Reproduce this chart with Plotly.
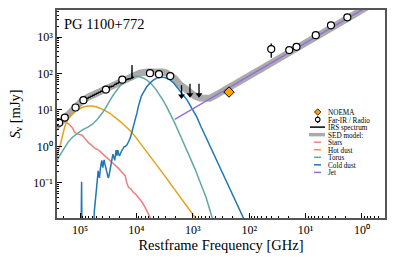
import plotly.graph_objects as go

# ---------------- data ----------------
# Photometry (open circles): rest-frame frequency [GHz], flux density [mJy]
phot_freq = [2.34e5, 1.86e5, 1.20e5, 8.7e4, 3.47e4, 1.78e4, 5750, 3980, 2510,
             40.7, 19.5, 14.5, 6.6, 3.55, 1.82]
phot_flux = [4.5, 6.2, 11.7, 18.6, 36.3, 67.6, 102, 95.5, 85,
             468, 437, 537, 1120, 2090, 3470]
phot_err = [0, 0, 0, 0, 0, 0, 0, 0, 0,
            200, 0, 0, 0, 0, 0]

# Upper limits (arrows)
ul_freq = [1585, 1122, 776]
ul_flux = [48, 52, 52]

# NOEMA
noema_freq = [228]
noema_flux = [31]

# IRS spectrum (log10 GHz, log10 mJy)
irs_lognu = [4.876, 4.858, 4.840, 4.823, 4.805, 4.787, 4.770, 4.752, 4.734, 4.716,
             4.699, 4.681, 4.663, 4.645, 4.628, 4.610, 4.592, 4.574, 4.557, 4.539,
             4.521, 4.504, 4.486, 4.468, 4.450, 4.433, 4.415, 4.397, 4.379, 4.362,
             4.344, 4.326, 4.309, 4.291, 4.273, 4.255, 4.238, 4.220, 4.202, 4.184,
             4.167, 4.149, 4.131, 4.113, 4.096, 4.081, 4.078, 4.075, 4.060, 4.043]
irs_logflux = [1.329, 1.315, 1.356, 1.342, 1.384, 1.370, 1.411, 1.397, 1.438, 1.425,
               1.466, 1.452, 1.493, 1.479, 1.521, 1.507, 1.534, 1.521, 1.562, 1.548,
               1.575, 1.603, 1.589, 1.644, 1.630, 1.658, 1.644, 1.685, 1.712, 1.699,
               1.740, 1.726, 1.767, 1.753, 1.781, 1.795, 1.822, 1.808, 1.836, 1.822,
               1.849, 1.836, 1.863, 1.849, 1.877, 1.880, 2.233, 1.870, 1.890, 1.904]

# SED model components (log10 GHz, log10 mJy)
total_lognu = [5.45, 5.41, 5.36, 5.32, 5.23, 5.14, 5.05, 4.96, 4.88, 4.79, 4.70, 4.58,
               4.47, 4.35, 4.24, 4.15, 4.06, 3.94, 3.81, 3.67, 3.53, 3.46, 3.40, 3.32,
               3.23, 3.14, 3.05, 2.96, 2.87, 2.78, 2.70, 2.61, 2.48, 2.34, 2.20, 2.04,
               1.76, 1.45, 1.10, 0.74, 0.39, 0.0, -0.45]
total_logflux = [0.50, 0.56, 0.65, 0.72, 0.88, 1.02, 1.14, 1.25, 1.33, 1.40, 1.47, 1.55,
                 1.63, 1.72, 1.82, 1.90, 1.96, 2.01, 2.04, 2.05, 2.04, 2.01, 1.96, 1.86,
                 1.70, 1.58, 1.47, 1.38, 1.33, 1.30, 1.32, 1.39, 1.50, 1.63, 1.75, 1.90,
                 2.15, 2.43, 2.75, 3.07, 3.39, 3.74, 4.15]

stars_lognu = [5.45, 5.41, 5.36, 5.30, 5.25, 5.21, 5.14, 5.09, 5.04, 4.96, 4.86, 4.80,
               4.73, 4.67, 4.61, 4.55, 4.50, 4.44, 4.38, 4.33, 4.29, 4.24, 4.20, 4.17,
               4.14, 4.10, 4.06, 4.00, 3.94, 3.89, 3.85, 3.80, 3.76, 3.69]
stars_logflux = [0.66, 0.66, 0.66, 0.70, 0.66, 0.63, 0.52, 0.38, 0.34, 0.31, 0.12, 0.04,
                 -0.05, -0.10, -0.19, -0.26, -0.33, -0.42, -0.51, -0.58, -0.65, -0.71,
                 -0.80, -1.00, -1.12, -1.16, -1.25, -1.33, -1.44, -1.55, -1.66, -1.80,
                 -1.93, -2.15]

hot_lognu = [5.50, 5.44, 5.40, 5.35, 5.31, 5.27, 5.21, 5.14, 5.07, 5.00, 4.93, 4.86,
             4.78, 4.70, 4.63, 4.56, 4.47, 4.38, 4.29, 4.20, 4.11, 4.02, 3.90, 3.76,
             3.62, 3.49, 3.36, 3.23, 3.08, 2.94, 2.80]
hot_logflux = [-1.00, -0.51, -0.22, 0.04, 0.32, 0.55, 0.76, 0.90, 0.99, 1.05, 1.09, 1.11,
               1.11, 1.08, 1.04, 0.99, 0.91, 0.81, 0.69, 0.56, 0.43, 0.27, 0.03, -0.25,
               -0.54, -0.82, -1.10, -1.38, -1.68, -1.98, -2.28]

torus_lognu = [5.50, 5.44, 5.38, 5.32, 5.26, 5.21, 5.13, 5.04, 4.95, 4.86, 4.78, 4.70,
               4.64, 4.59, 4.54, 4.50, 4.45, 4.41, 4.35, 4.29, 4.23, 4.17, 4.11, 4.06,
               4.00, 3.94, 3.87, 3.81, 3.74, 3.67, 3.60, 3.53, 3.46, 3.40, 3.32, 3.23,
               3.14, 3.05, 2.96, 2.87, 2.77, 2.66, 2.58]
torus_logflux = [-0.75, -0.51, -0.30, -0.15, 0.00, 0.12, 0.26, 0.37, 0.46, 0.53, 0.61,
                 0.73, 0.84, 0.95, 1.07, 1.19, 1.31, 1.41, 1.55, 1.66, 1.75, 1.82, 1.88,
                 1.92, 1.93, 1.91, 1.87, 1.81, 1.72, 1.60, 1.44, 1.27, 1.08, 0.90, 0.64,
                 0.33, 0.02, -0.29, -0.62, -0.98, -1.37, -1.93, -2.30]

cold_lognu = [4.985, 4.972, 4.962, 4.78, 4.765, 4.745, 4.73, 4.715, 4.70, 4.685, 4.678,
              4.665, 4.655, 4.64, 4.628, 4.615, 4.605, 4.595, 4.585, 4.572, 4.56, 4.545,
              4.53, 4.515, 4.50, 4.485, 4.47, 4.45, 4.43, 4.415, 4.40, 4.385, 4.372,
              4.36, 4.345, 4.33, 4.315, 4.30, 4.285, 4.27, 4.255, 4.235, 4.22, 4.20,
              4.17, 4.14, 4.11, 4.085, 4.06, 4.04, 4.02, 3.99, 3.965, 3.94, 3.91, 3.88,
              3.82, 3.76, 3.70, 3.63, 3.53, 3.46, 3.40, 3.34, 3.28, 3.19, 3.10, 3.02,
              2.93, 2.86, 2.78, 2.70, 2.61, 2.52, 2.43, 2.27, 2.11, 2.00]
cold_logflux = [-3.0, -0.97, -3.0, -3.0, -2.2, -1.75, -1.52, -1.25, -1.08, -0.80, -0.67,
                -0.80, -0.86, -0.62, -0.45, -0.38, -0.50, -0.58, -0.45, -0.37, -0.47,
                -0.58, -0.70, -0.78, -0.86, -0.80, -0.64, -0.45, -0.32, -0.21, -0.28,
                -0.38, -0.25, -0.10, -0.25, -0.10, -0.20, -0.26, -0.20, -0.12, -0.10,
                -0.05, -0.01, 0.00, 0.04, 0.13, 0.23, 0.37, 0.51, 0.61, 0.70, 0.92, 1.10,
                1.27, 1.39, 1.47, 1.63, 1.74, 1.82, 1.88, 1.90, 1.87, 1.82, 1.74, 1.63,
                1.45, 1.27, 1.05, 0.81, 0.56, 0.29, 0.02, -0.29, -0.60, -0.92, -1.44,
                -1.96, -2.30]

jet_lognu = [3.32, 2.50, 1.50, 0.50, -0.45]
jet_logflux = [0.745, 1.49, 2.39, 3.29, 4.15]

legend_labels = ["NOEMA", "Far-IR / Radio", "IRS spectrum", "SED model:",
                 "Stars", "Hot dust", "Torus", "Cold dust", "Jet"]

x_major = [1e5, 1e4, 1e3, 1e2, 1e1, 1e0]
x_text = ["10\u2075", "10\u2074", "10\u00b3", "10\u00b2", "10\u00b9", "10\u2070"]
y_major = [0.1, 1, 10, 100, 1000]
y_text = ["10\u207b\u00b9", "10\u2070", "10\u00b9", "10\u00b2", "10\u00b3"]

# ---------------- styles ----------------
FONT = "Liberation Serif"
C_STARS = "#F08080"
C_HOT = "#E6A118"
C_TORUS = "#5FA8A3"
C_COLD = "#2077B4"
C_JET = "#9370DB"
C_TOTAL = "#ABABAB"
C_NOEMA = "#FFA500"


def lin(vals):
    return [10 ** v for v in vals]


fig = go.Figure()

fig.add_trace(go.Scatter(x=lin(total_lognu), y=lin(total_logflux), mode="lines",
                         line=dict(color=C_TOTAL, width=7), showlegend=False))
for lx, ly, col in [(stars_lognu, stars_logflux, C_STARS),
                    (hot_lognu, hot_logflux, C_HOT),
                    (torus_lognu, torus_logflux, C_TORUS),
                    (cold_lognu, cold_logflux, C_COLD),
                    (jet_lognu, jet_logflux, C_JET)]:
    fig.add_trace(go.Scatter(x=lin(lx), y=lin(ly), mode="lines",
                             line=dict(color=col, width=1.5), showlegend=False))

fig.add_trace(go.Scatter(x=lin(irs_lognu), y=lin(irs_logflux), mode="lines",
                         line=dict(color="black", width=1.3), showlegend=False))

# upper-limit arrows
ax_, ay_ = [], []
for f, s in zip(ul_freq, ul_flux):
    ax_ += [f, f, None]
    ay_ += [s, s * 0.5, None]
fig.add_trace(go.Scatter(x=ax_, y=ay_, mode="lines",
                         line=dict(color="black", width=1.3), showlegend=False))
fig.add_trace(go.Scatter(x=ul_freq, y=[s * 0.5 for s in ul_flux], mode="markers",
                         marker=dict(symbol="triangle-down", size=6, color="black"),
                         showlegend=False))

fig.add_trace(go.Scatter(x=phot_freq, y=phot_flux, mode="markers",
                         error_y=dict(type="data", array=phot_err, color="black",
                                      thickness=1.3, width=0),
                         marker=dict(symbol="circle", size=7, color="white",
                                     line=dict(color="black", width=1.2)),
                         showlegend=False))
fig.add_trace(go.Scatter(x=noema_freq, y=noema_flux, mode="markers",
                         marker=dict(symbol="diamond", size=8, color=C_NOEMA,
                                     line=dict(color="black", width=1)),
                         showlegend=False))

# ---------------- layout ----------------
W, H = 395, 263
L, R, T, B = 57, 10, 10, 45
PW, PH = W - L - R, H - T - B


def px(xp):
    return (xp - L) / PW


def py(yp):
    return (H - B - yp) / PH


x_minor = [m * 10 ** k for k in range(-1, 6) for m in range(2, 10)]
y_minor = [m * 10 ** k for k in range(-2, 4) for m in range(2, 10)]

axis_common = dict(type="log", showgrid=False, zeroline=False, showline=True,
                   mirror=True, linecolor="#555555", linewidth=1.5,
                   ticks="inside", ticklen=5, tickwidth=1, tickcolor="black",
                   tickfont=dict(family=FONT, size=12, color="black"))

fig.update_xaxes(**axis_common, range=[5.408, -0.408], tickmode="array",
                 tickvals=x_major, ticktext=x_text,
                 minor=dict(tickvals=x_minor, ticks="inside", ticklen=2.5,
                            tickcolor="black", tickwidth=0.8),
                 title=dict(text="Restframe Frequency [GHz]",
                            font=dict(family=FONT, size=14.5, color="black"),
                            standoff=3))
fig.update_yaxes(**axis_common, range=[-1.96, 3.74], tickmode="array",
                 tickvals=y_major, ticktext=y_text,
                 minor=dict(tickvals=y_minor, ticks="inside", ticklen=2.5,
                            tickcolor="black", tickwidth=0.8),
                 title=dict(text='<i>S</i><span style="baseline-shift:-22%;font-size:10px">'
                                 '\u03bd</span> [mJy]',
                            font=dict(family=FONT, size=14.5, color="black"),
                            standoff=9))

shapes = []
annotations = [dict(text="PG 1100+772", xref="paper", yref="paper", x=px(62),
                    y=py(24), xanchor="left", yanchor="middle", showarrow=False,
                    font=dict(family=FONT, size=14.5, color="black"))]

row0, step = 112.0, 7.55
sym_x = 317.7
n_rows = len(legend_labels)
# legend text: one block, tight line spacing (base size sets the spacing)
legend_text = "<br>".join('<span style="font-size:7.2px">{}</span>'.format(t)
                          for t in legend_labels)
annotations.append(dict(text=legend_text, xref="paper", yref="paper", x=px(328),
                        y=py(row0 + step * (n_rows - 1) / 2 + 0.8),
                        xanchor="left", yanchor="middle", align="left",
                        showarrow=False, borderpad=0, borderwidth=0,
                        font=dict(family=FONT, size=step / 1.3, color="black")))

for i, lab in enumerate(legend_labels):
    yc = row0 + step * i
    if i == 0:
        d = 3.2
        path = "M {},{} L {},{} L {},{} L {},{} Z".format(
            px(sym_x), py(yc - d), px(sym_x + d), py(yc), px(sym_x), py(yc + d),
            px(sym_x - d), py(yc))
        shapes.append(dict(type="path", path=path, xref="paper", yref="paper",
                           fillcolor=C_NOEMA, line=dict(color="black", width=0.8)))
    elif i == 1:
        shapes.append(dict(type="line", xref="paper", yref="paper",
                           x0=px(sym_x), x1=px(sym_x), y0=py(yc - 3.4), y1=py(yc + 3.4),
                           line=dict(color="black", width=1.2)))
        r = 2.3
        shapes.append(dict(type="circle", xref="paper", yref="paper",
                           x0=px(sym_x - r), x1=px(sym_x + r), y0=py(yc + r),
                           y1=py(yc - r), fillcolor="white",
                           line=dict(color="black", width=1.1)))
    elif i == 2:
        shapes.append(dict(type="line", xref="paper", yref="paper",
                           x0=px(310), x1=px(325), y0=py(yc), y1=py(yc),
                           line=dict(color="black", width=1.5)))
    elif i == 3:
        shapes.append(dict(type="line", xref="paper", yref="paper",
                           x0=px(309), x1=px(325), y0=py(yc), y1=py(yc),
                           line=dict(color=C_TOTAL, width=3.5)))
    else:
        col = [C_STARS, C_HOT, C_TORUS, C_COLD, C_JET][i - 4]
        shapes.append(dict(type="line", xref="paper", yref="paper",
                           x0=px(314), x1=px(321), y0=py(yc), y1=py(yc),
                           line=dict(color=col, width=1.5)))

fig.update_layout(width=W, height=H, margin=dict(l=L, r=R, t=T, b=B, autoexpand=False),
                  paper_bgcolor="white", plot_bgcolor="white",
                  font=dict(family=FONT, color="black"),
                  shapes=shapes, annotations=annotations, showlegend=False)

fig.write_html("out.html", config={"displayModeBar": False},
               post_script="document.body.style.margin='0';document.body.style.padding='0';")
